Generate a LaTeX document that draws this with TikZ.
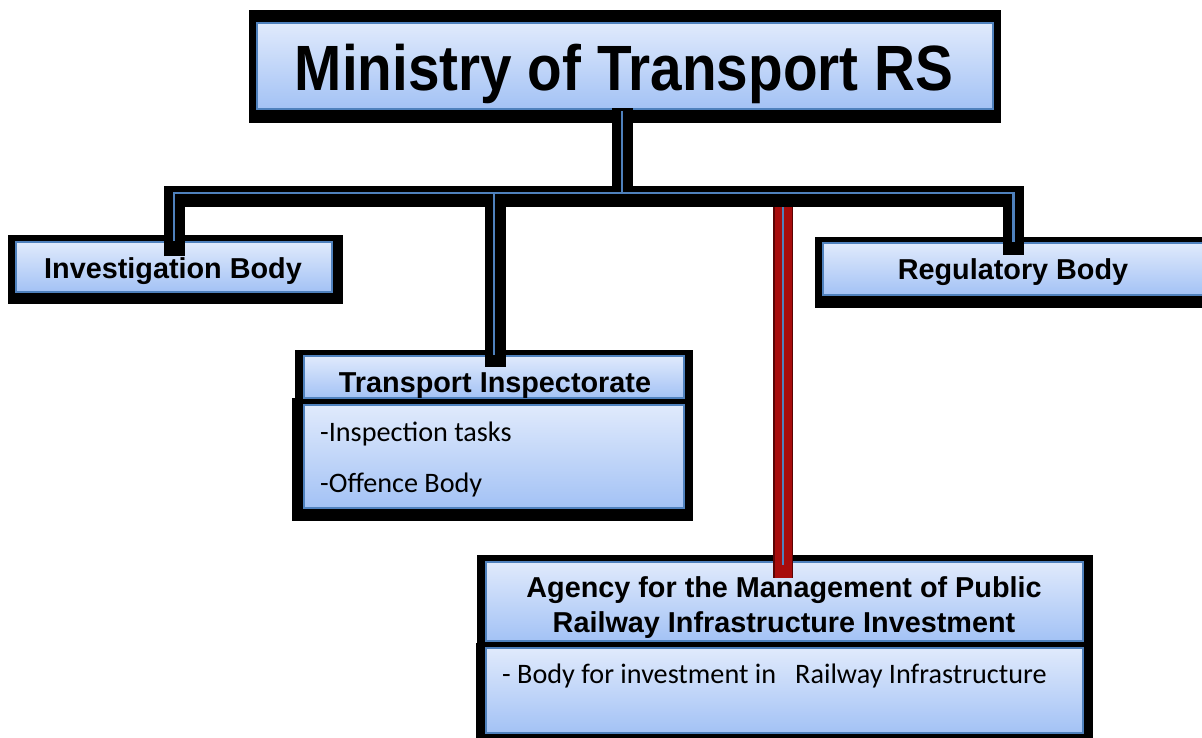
\documentclass[tikz,border=0pt]{standalone}
\usepackage{fontspec}
\setmainfont{Liberation Sans}
\newfontfamily\bodyfont{Carlito}
\usetikzlibrary{calc}
\definecolor{boxedge}{HTML}{4F81BD}
\definecolor{boxtop}{HTML}{E0EAFC}
\definecolor{boxbot}{HTML}{A3C2F5}
\definecolor{agencyred}{HTML}{A80C0C}
\definecolor{agencyedge}{HTML}{5A0404}
\begin{document}
\begin{tikzpicture}[x=1pt,y=-1pt,
  bluebox/.style={rectangle, draw=boxedge, line width=2pt, top color=boxtop, bottom color=boxbot, inner sep=0pt},
  boxshadow/.style={fill=black},
  shadowline/.style={draw=black, line width=21pt, line join=miter, line cap=butt},
  thinblue/.style={draw=boxedge, line width=2.4pt, line cap=butt, line join=miter},
  redline/.style={draw=agencyred, line width=20pt, line cap=butt, double=agencyred, double distance=17pt, draw=agencyedge, line width=1.5pt},
  headtext/.style={font=\fontsize{28.8}{30}\selectfont\bfseries, inner sep=0pt, anchor=base},
  bodytext/.style={font=\bodyfont\fontsize{28.2}{30}\selectfont, inner sep=0pt, anchor=base west}]
\useasboundingbox (0,0) rectangle (1202,737);
\clip (0,0) rectangle (1202,737);
% shadows
\fill[boxshadow] (249,10) rectangle (1001,123);
\fill[boxshadow] (8,235) rectangle (343,304);
\fill[boxshadow] (815,237) rectangle (1212,308);
\fill[boxshadow] (295,350) rectangle (693,400);
\fill[boxshadow] (292,398) rectangle (693,521);
\fill[boxshadow] (477,555) rectangle (1093,645);
\fill[boxshadow] (476,643) rectangle (1093,740);
% boxes
\node[bluebox, minimum width=736pt, minimum height=86pt] (min) at (625,66) {};
\node[bluebox, minimum width=316pt, minimum height=50pt] (inv) at (174,267) {};
\node[bluebox, minimum width=381pt, minimum height=52pt] (reg) at (1013.5,269) {};
\node[bluebox, minimum width=380pt, minimum height=42pt] (tih) at (494,377) {};
\node[bluebox, minimum width=380pt, minimum height=103pt] (tib) at (494,456.5) {};
\node[bluebox, minimum width=597pt, minimum height=79pt] (agh) at (784.5,601.5) {};
\node[bluebox, minimum width=597pt, minimum height=85pt] (agb) at (784.5,690.5) {};
% connectors
\coordinate (bar) at (0,196.5);
\draw[shadowline] ($(min.south)+(-2.5,-2)$) -- ($(min.south |- bar)+(-2.5,0)$);
\draw[shadowline] ($(inv.north)+(0,15)$) -- (inv.north |- bar) -- (reg.north |- bar) -- ($(reg.north)+(0,13)$);
\draw[shadowline] ($(tih.north |- bar)+(1.5,0)$) -- ($(tih.north)+(1.5,12)$);
\draw[redline] ($(agh.north |- bar)+(-1.5,10.5)$) -- ($(agh.north)+(-1.5,17)$);
\draw[thinblue] ($(min.south)+(-3,1)$) -- ($(min.south |- bar)+(-3,-3.5)$);
\draw[thinblue] (inv.north) -- ($(inv.north |- bar)+(0,-3.5)$) -- ($(reg.north |- bar)+(0,-3.5)$) -- (reg.north);
\draw[thinblue] ($(tih.north |- bar)+(0,-3.5)$) -- (tih.north);
\draw[thinblue] ($(agh.north |- bar)+(-1.5,10.5)$) -- ($(agh.north)+(-1.5,4)$);
% texts
\node[inner sep=0pt, anchor=base, font=\fontsize{64}{64}\selectfont\bfseries] (mint) at (624,90) {\scalebox{0.886}[1]{Ministry of Transport RS}};
\node[headtext] (invt) at (173,278) {Investigation Body};
\node[headtext] (regt) at (1013,279) {Regulatory Body};
\node[headtext] (tiht) at (495,392) {Transport Inspectorate};
\node[headtext] (agt1) at (784,597) {Agency for the Management of Public};
\node[headtext] (agt2) at (784,632) {Railway Infrastructure Investment};
\node[bodytext] (tib1) at (320,441) {-Inspection tasks};
\node[bodytext] (tib2) at (320,492) {-Offence Body};
\node[bodytext] (agb1) at (502,683) {- Body for investment in\ \ \ Railway Infrastructure};
\end{tikzpicture}
\end{document}
